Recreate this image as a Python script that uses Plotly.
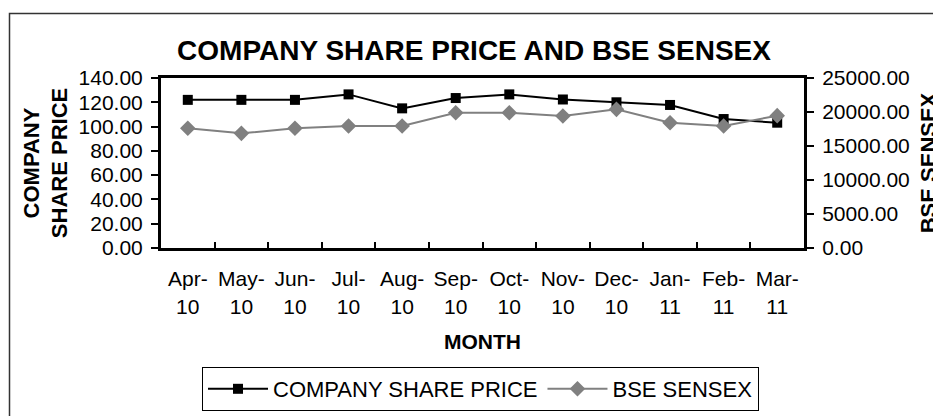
import plotly.graph_objects as go

months = ["Apr-<br>10", "May-<br>10", "Jun-<br>10", "Jul-<br>10", "Aug-<br>10", "Sep-<br>10",
          "Oct-<br>10", "Nov-<br>10", "Dec-<br>10", "Jan-<br>11", "Feb-<br>11", "Mar-<br>11"]
company_price = [122.0, 122.0, 122.0, 126.5, 115.0, 123.5, 126.5, 122.3, 120.0, 117.8, 106.2, 103.2]
bse_sensex = [17600, 16860, 17600, 17940, 17940, 19900, 19900, 19410, 20390, 18430, 17940, 19460]

FONT = "Liberation Sans, Arial, sans-serif"
OFF = 8  # page body margin offset
W, H = 941 - OFF, 416 - OFF
L, R, T, B = 161 - OFF, 804 - OFF, 78 - OFF, 248 - OFF

fig = go.Figure()
fig.add_trace(go.Scatter(
    x=months, y=company_price, name="COMPANY SHARE PRICE", mode="lines+markers",
    line=dict(color="#000000", width=2),
    marker=dict(symbol="square", size=10, color="#000000"),
    yaxis="y"))
fig.add_trace(go.Scatter(
    x=months, y=bse_sensex, name="BSE SENSEX", mode="lines+markers",
    line=dict(color="#808080", width=2),
    marker=dict(symbol="diamond", size=12, color="#808080"),
    yaxis="y2"))

pw, ph = R - L, B - T
def px_x(p):
    return (p - OFF - L) / pw
def px_y(p):
    return (B - (p - OFF)) / ph

fig.update_layout(
    width=W, height=H,
    margin=dict(l=L, r=W - R, t=T, b=H - B, pad=0, autoexpand=False),
    paper_bgcolor="white", plot_bgcolor="white",
    font=dict(family=FONT, color="#000000"),
    title=dict(text="<b>COMPANY SHARE PRICE AND BSE SENSEX</b>",
               x=(474 - OFF) / W, xanchor="center", xref="container",
               y=1 - 42 / H, yanchor="middle", yref="container",
               font=dict(size=28, family=FONT)),
    xaxis=dict(type="category", range=[-0.5, 11.5], tickangle=0, automargin=False,
               showline=True, linecolor="black", linewidth=3, mirror=True,
               ticks="inside", tickson="boundaries", ticklen=6, tickwidth=1.5, tickcolor="black",
               ticklabelstandoff=10,
               showgrid=False, zeroline=False,
               tickfont=dict(size=21, family=FONT),
               title=dict(text="<b>MONTH</b>", font=dict(size=21, family=FONT), standoff=18)),
    yaxis=dict(range=[0, 140], dtick=20, tickformat=".2f", automargin=False,
               showline=True, linecolor="black", linewidth=3, mirror=True,
               ticks="outside", ticklen=7, tickwidth=1.5, tickcolor="black",
               ticklabelstandoff=4,
               showgrid=False, zeroline=False,
               tickfont=dict(size=21, family=FONT),
               title=dict(text="<b>COMPANY<br>SHARE PRICE</b>", font=dict(size=22, family=FONT), standoff=5)),
    yaxis2=dict(range=[0, 25000], dtick=5000, tickformat=".2f", automargin=False,
                overlaying="y", side="right",
                showline=True, linecolor="black", linewidth=3,
                ticks="outside", ticklen=7, tickwidth=1.5, tickcolor="black",
                ticklabelstandoff=4,
                showgrid=False, zeroline=False,
                tickfont=dict(size=21, family=FONT),
                title=dict(text="<b>BSE SENSEX</b>", font=dict(size=22, family=FONT), standoff=12)),
    legend=dict(orientation="h", x=px_x(480.5), xanchor="center",
                y=px_y(367), yanchor="top",
                bordercolor="black", borderwidth=1, bgcolor="white",
                font=dict(size=22, family=FONT), itemwidth=60),
    showlegend=True,
    shapes=[dict(type="rect", xref="paper", yref="paper",
                 x0=px_x(9.5), x1=px_x(980), y0=px_y(460), y1=px_y(13.5),
                 line=dict(color="#333333", width=1.5), fillcolor="rgba(0,0,0,0)",
                 layer="below")],
)

fig.write_html("out.html")
